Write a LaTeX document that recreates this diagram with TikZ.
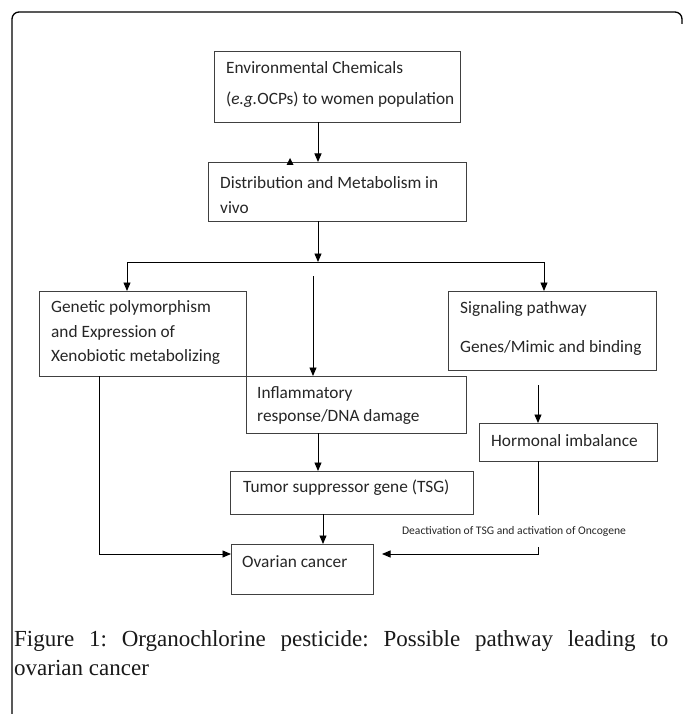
\documentclass[tikz,border=0pt]{standalone}
\usepackage{fontspec}
\newfontfamily\boxfont{Carlito}
\newfontfamily\capfont{Liberation Serif}
\usetikzlibrary{arrows.meta,calc}
\begin{document}
\begin{tikzpicture}[x=1pt,y=-1pt,
  box/.style={draw=black!75, line width=0.9pt, inner sep=0pt, outer sep=0pt},
  txt/.style={anchor=west, inner sep=0pt, text=black!85, font=\boxfont\fontsize{17.3}{20}\selectfont},
  lab/.style={inner sep=0pt, text=black!85, font=\boxfont\fontsize{11.6}{13}\selectfont},
  arr/.style={draw=black, line width=0.9pt, -{Triangle[length=8.5pt,width=7pt]}},
  ln/.style={draw=black, line width=0.9pt}]
\useasboundingbox (0,0) rectangle (683,714);
\fill[white] (0,0) rectangle (683,714);
% frame
\draw[line width=1.3pt, rounded corners=7pt] (12,720) -- (12,12) -- (682,12) -- (682,24);
% boxes
\node[box, minimum width=246pt, minimum height=71pt] (b1) at (337,86.5) {};
\node[box, minimum width=258pt, minimum height=59pt] (b2) at (337,191.5) {};
\node[box, minimum width=207pt, minimum height=85pt] (b3) at (142.5,333.5) {};
\node[box, minimum width=220pt, minimum height=57pt] (b4) at (356,404.5) {};
\node[box, minimum width=208pt, minimum height=79pt] (b7) at (552,330.5) {};
\node[box, minimum width=178pt, minimum height=38pt] (b8) at (568,442) {};
\node[box, minimum width=243pt, minimum height=43pt] (b5) at (351.5,492.5) {};
\node[box, minimum width=142pt, minimum height=50pt] (b6) at (302,569) {};
% texts
\node[txt] (t1a) at (226,68) {Environmental Chemicals};
\node[txt] (t1b) at (226,100) {(\textit{e.g.}OCPs) to women population};
\node[txt] (t2a) at (220,183) {Distribution and Metabolism in};
\node[txt] (t2b) at (220,208) {vivo};
\node[txt] (t3a) at (51,308) {Genetic polymorphism};
\node[txt] (t3b) at (51,333) {and Expression of};
\node[txt] (t3c) at (51,357) {Xenobiotic metabolizing};
\node[txt] (t4a) at (257,394) {Inflammatory};
\node[txt] (t4b) at (257,417) {response/DNA damage};
\node[txt] (t7a) at (460,309) {Signaling pathway};
\node[txt] (t7b) at (460,348) {Genes/Mimic and binding};
\node[txt] (t8) at (491,441) {Hormonal imbalance};
\node[txt] (t5) at (243,488) {Tumor suppressor gene (TSG)};
\node[txt] (t6) at (242,562) {Ovarian cancer};
\node[lab] (lab) at (514,531) {Deactivation of TSG and activation of Oncogene};
% coordinates
\coordinate (c318) at (318,0);
\coordinate (c323) at (323,0);
\coordinate (j) at (318,262);
\coordinate (jL) at (127,262);
\coordinate (jR) at (544,262);
\coordinate (mTop) at (313,276);
\coordinate (c99) at (99,554);
\coordinate (hTop) at (538,385);
\coordinate (g1) at (538,515);
\coordinate (g2) at (538,547);
\coordinate (rEnd) at (382,554);
% connectors
\draw[arr] (b1.south -| c318) -- (b2.north -| c318);
\fill (290,158) -- (286.5,165) -- (293.5,165) -- cycle;
\draw[arr] (b2.south -| c318) -- (j);
\draw[ln] (jL) -- (jR);
\draw[arr] (jL) -- (b3.north -| jL);
\draw[arr] (jR) -- (b7.north -| jR);
\draw[arr] (mTop) -- (b4.north -| mTop);
\draw[arr] (b4.south -| c318) -- (b5.north -| c318);
\draw[arr] (b5.south -| c323) -- (b6.north -| c323);
\draw[arr] (b3.south -| c99) -- (c99) -- (b6.west |- c99);
\draw[arr] (hTop) -- (b8.north -| hTop);
\draw[ln] (b8.south -| g1) -- (g1);
\draw[arr] (g2) |- (rEnd);
% caption
\node[anchor=north west, inner sep=0pt, text width=654pt, align=justify, text=black!90,
  font=\capfont\fontsize{23}{29}\selectfont] (cap) at (14,630)
  {\frenchspacing Figure 1: Organochlorine pesticide: Possible pathway leading to\linebreak ovarian cancer};
\end{tikzpicture}
\end{document}
